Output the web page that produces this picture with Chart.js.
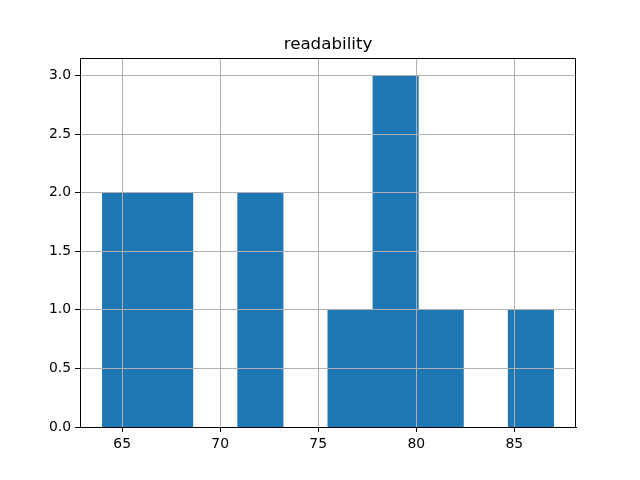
<!DOCTYPE html>
<html>
<head>
<meta charset="utf-8">
<script src="https://cdn.jsdelivr.net/npm/chart.js@4"></script>
<style>
  html, body { margin: 0; padding: 0; background: #fff; }
  #wrap { width: 640px; height: 480px; }
</style>
</head>
<body>
<div id="wrap"><canvas id="hist" width="640" height="480"></canvas></div>
<script>
// histogram of readability, 10 bins
const binEdges = [64, 66.3, 68.6, 70.9, 73.2, 75.5, 77.8, 80.1, 82.4, 84.7, 87];
const counts = [2, 2, 0, 2, 0, 1, 3, 1, 0, 1];
const xTicks = [65, 70, 75, 80, 85];
const yTicks = [0, 0.5, 1.0, 1.5, 2.0, 2.5, 3.0];
const title = 'readability';

// empty bins stay in the list (they set the bar width) but draw nothing
const points = counts.map((c, i) => ({ x: (binEdges[i] + binEdges[i + 1]) / 2, y: c === 0 ? null : c }));
const span = binEdges[binEdges.length - 1] - binEdges[0];
const xMin = binEdges[0] - span * 0.05;
const xMax = binEdges[binEdges.length - 1] + span * 0.05;
const yMax = Math.max(...counts) * 1.05;

const frame = {
  id: 'frame',
  afterDraw(chart) {
    const { ctx, chartArea: a } = chart;
    ctx.save();
    ctx.strokeStyle = '#000';
    ctx.lineWidth = 1;
    ctx.strokeRect(Math.round(a.left) + 0.5, Math.round(a.top) + 0.5,
      Math.round(a.right - a.left) - 1, Math.round(a.bottom - a.top));
    ctx.fillStyle = '#000';
    ctx.font = '16.7px "DejaVu Sans"';
    ctx.textAlign = 'center';
    ctx.textBaseline = 'alphabetic';
    ctx.fillText(title, (a.left + a.right) / 2, a.top - 9);
    ctx.restore();
  }
};

new Chart(document.getElementById('hist'), {
  type: 'bar',
  data: {
    datasets: [{
      data: points,
      backgroundColor: '#1f77b4',
      borderWidth: 0,
      inflateAmount: 0.5,
      barPercentage: 1,
      categoryPercentage: 1
    }]
  },
  options: {
    responsive: false,
    animation: false,
    layout: { padding: { left: 0, right: 64, top: 58, bottom: 0 } },
    plugins: {
      legend: { display: false },
      tooltip: { enabled: false },
      title: { display: false }
    },
    scales: {
      x: {
        type: 'linear',
        min: xMin,
        max: xMax,
        offset: false,
        afterBuildTicks: s => { s.ticks = xTicks.map(v => ({ value: v })); },
        afterFit: s => { s.height = 53; },
        grid: { z: 1, offset: false, color: '#b0b0b0', lineWidth: 1, tickLength: 5, tickColor: '#000' },
        border: { z: 2, color: '#000' },
        ticks: {
          color: '#000', padding: 4, maxRotation: 0,
          font: { family: 'DejaVu Sans', size: 13.9 },
          callback: v => String(v)
        }
      },
      y: {
        min: 0,
        max: yMax,
        afterBuildTicks: s => { s.ticks = yTicks.map(v => ({ value: v })); },
        afterFit: s => { s.width = 80; },
        grid: { z: 1, color: '#b0b0b0', lineWidth: 1, tickLength: 5, tickColor: '#000' },
        border: { z: 2, color: '#000' },
        ticks: {
          color: '#000', padding: 4,
          font: { family: 'DejaVu Sans', size: 13.9 },
          callback: v => Number(v).toFixed(1)
        }
      }
    }
  },
  plugins: [frame]
});
</script>
</body>
</html>
